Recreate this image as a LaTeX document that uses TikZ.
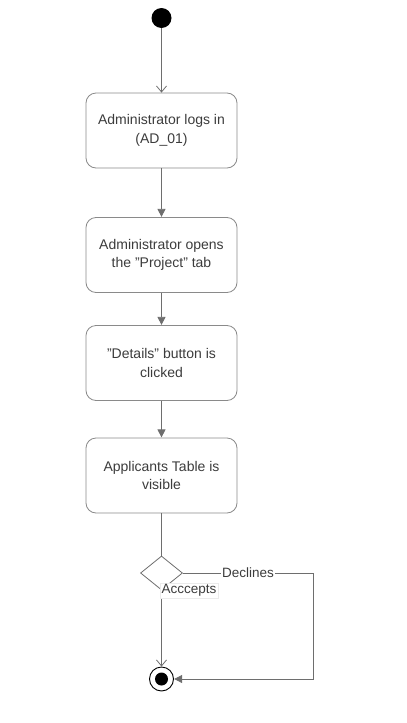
\documentclass[tikz,border=0pt]{standalone}
\usepackage{fontspec}
\setmainfont{Liberation Sans}
\usepackage{xcolor}
\usepackage{tikz}
\usetikzlibrary{arrows.meta}
\usetikzlibrary{shapes.geometric}
\definecolor{linegray}{HTML}{6E6E6E}
\definecolor{boxgray}{HTML}{8A8A8A}
\definecolor{textgray}{HTML}{3C3C3C}
\newcommand{\MidX}{161.5}
\newcommand{\BoxW}{151}
\newcommand{\BoxH}{75}
\newcommand{\Qt}{\symbol{34}}
\tikzset{
  action/.style={draw=boxgray, line width=0.8pt, rounded corners=10pt, fill=white,
    minimum width=\BoxW pt, minimum height=\BoxH pt, inner sep=2pt, align=center,
    text=textgray, font=\fontsize{14}{18.5}\selectfont},
  choice/.style={diamond, draw=linegray, line width=0.8pt, fill=white,
    minimum width=42pt, minimum height=34pt, inner sep=0pt},
  flow/.style={draw=linegray, line width=0.8pt},
  openhead/.style={flow, -{Straight Barb[length=6pt,width=10pt,line width=0.8pt]}},
  fullhead/.style={flow, -{Triangle[length=8pt,width=8pt]}, shorten >=0.2pt},
  edgetext/.style={fill=white, text=textgray, inner sep=1.5pt,
    font=\fontsize{13.5}{16}\selectfont}
}
\begin{document}
\begin{tikzpicture}[x=1pt,y=-1pt]
\useasboundingbox (0,0) rectangle (407,723);

\node[circle, fill=black, minimum size=20pt, inner sep=0pt] (start) at (\MidX,18) {};

\node[action] (login) at (\MidX,130.5) {Administrator logs in\\(AD\_01)};
\node[action] (opentab) at (\MidX,255) {Administrator opens\\the \Qt Project\Qt{} tab};
\node[action] (details) at (\MidX,363) {\Qt Details\Qt{} button is\\clicked};
\node[action] (table) at (\MidX,475.5) {Applicants Table is\\visible};

\node[choice] (decide) at (\MidX,573) {};

% final node
\node[circle, draw=black, line width=0.9pt, fill=white, minimum size=24pt, inner sep=0pt] (final) at (\MidX,679) {};
\fill[black] (final.center) circle(6.5pt);

\coordinate (turn) at (313,679);

\draw[openhead] (start) -- (login);
\draw[fullhead] (login) -- (opentab);
\draw[fullhead] (opentab) -- (details);
\draw[fullhead] (details) -- (table);
\draw[flow] (table) -- (decide);

\draw[fullhead] (decide.east) -- node[edgetext]{Declines} (decide.east -| turn) -- (turn) -- (final);
\draw[openhead] (decide.south) -- (final.north);
\node[edgetext, anchor=west, draw=black!8] (acc) at ([xshift=-1.5pt]decide.south) {Acccepts};
\end{tikzpicture}
\end{document}
